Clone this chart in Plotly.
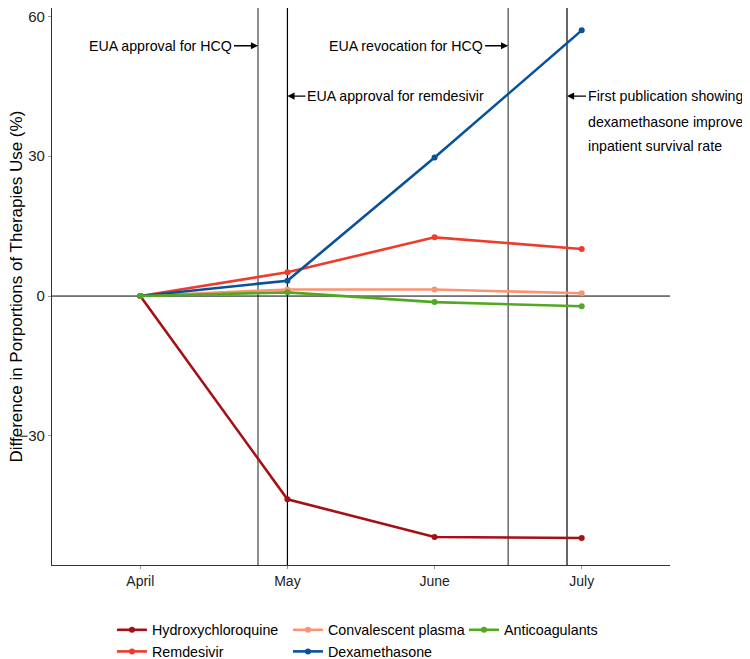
import plotly.graph_objects as go

months = ["April", "May", "June", "July"]
month_pos = [0, 1, 2, 3]

hydroxychloroquine = [0, -43.6, -51.7, -51.9]
remdesivir = [0, 5.1, 12.6, 10.1]
convalescent_plasma = [0, 1.4, 1.4, 0.6]
dexamethasone = [0, 3.3, 29.7, 57.0]
anticoagulants = [0, 0.8, -1.3, -2.2]

series_names = ["Hydroxychloroquine", "Remdesivir", "Convalescent plasma", "Dexamethasone", "Anticoagulants"]
series_values = [hydroxychloroquine, remdesivir, convalescent_plasma, dexamethasone, anticoagulants]
series_colors = ["#A50F15", "#EF3B2C", "#FC9272", "#08519C", "#52A821"]
legend_ranks = [1, 4, 2, 5, 3]

event_pos = [0.8, 1.0, 2.5, 2.9]
event_colors = ["#444444", "#000000", "#444444", "#000000"]

y_ticks = [-30, 0, 30, 60]
y_title = "Difference in Porportions of Therapies Use (%)"

FONT = "Liberation Sans, Arial, Helvetica, sans-serif"

fig = go.Figure()
for name, vals, col, rk in zip(series_names, series_values, series_colors, legend_ranks):
    fig.add_trace(go.Scatter(
        x=month_pos, y=vals, mode="lines+markers", name=name,
        line=dict(color=col, width=2.6), marker=dict(color=col, size=6),
        legendrank=rk,
    ))

shapes = []
for xp, c in zip(event_pos, event_colors):
    shapes.append(dict(type="line", xref="x", yref="paper", x0=xp, x1=xp, y0=0, y1=1,
                       line=dict(color=c, width=1.2), layer="below"))
shapes.append(dict(type="line", xref="paper", yref="y", x0=0, x1=1, y0=0, y1=0,
                   line=dict(color="#000000", width=1), layer="below"))

ann_font = dict(family=FONT, size=14.2, color="#000000")
arrow_kw = dict(showarrow=True, ay=0, arrowhead=2, arrowsize=1.1, arrowwidth=1.3, arrowcolor="#000")
annotations = [
    dict(x=0.8, y=53.7, xref="x", yref="y", text="EUA approval for HCQ",
         ax=-24, xanchor="right", font=ann_font, **arrow_kw),
    dict(x=2.5, y=53.7, xref="x", yref="y", text="EUA revocation for HCQ",
         ax=-23, xanchor="right", font=ann_font, **arrow_kw),
    dict(x=1.0, y=42.9, xref="x", yref="y", text="EUA approval for remdesivir",
         ax=18, xanchor="left", font=ann_font, **arrow_kw),
    dict(x=2.9, y=42.9, xref="x", yref="y", text="First publication showing",
         ax=19, xanchor="left", font=ann_font, **arrow_kw),
    dict(x=2.9, y=37.4, xref="x", yref="y", text="dexamethasone improves", showarrow=False,
         xshift=19, xanchor="left", font=ann_font),
    dict(x=2.9, y=32.1, xref="x", yref="y", text="inpatient survival rate", showarrow=False,
         xshift=19, xanchor="left", font=ann_font),
    dict(x=0, y=0.5, xref="paper", yref="paper", text=y_title, textangle=-90,
         showarrow=False, xanchor="center", yanchor="middle", xshift=-36,
         font=dict(family=FONT, size=17, color="#000")),
]

fig.update_layout(
    width=742, height=651,
    margin=dict(l=44, r=80, t=0, b=94, autoexpand=False),
    plot_bgcolor="white", paper_bgcolor="white",
    font=dict(family=FONT, size=14, color="#000"),
    shapes=shapes, annotations=annotations,
    showlegend=True,
    legend=dict(orientation="h", x=0.097, xanchor="left", y=-0.088, yanchor="top",
                entrywidth=131, font=dict(family=FONT, size=14.3, color="#000"),
                bgcolor="rgba(0,0,0,0)", tracegroupgap=0),
    xaxis=dict(range=[-0.6, 3.6], tickmode="array", tickvals=month_pos, ticktext=months,
               showgrid=False, zeroline=False, showline=True, linecolor="#333", linewidth=1.1,
               ticks="outside", ticklen=3, tickcolor="#999", tickfont=dict(size=14, color="#222"),
               automargin=False, ticklabeloverflow="allow"),
    yaxis=dict(range=[-57.7, 61.8], tickmode="array", tickvals=y_ticks,
               showgrid=False, zeroline=False, showline=True, linecolor="#333", linewidth=1.1,
               ticks="outside", ticklen=3, tickcolor="#999", tickfont=dict(size=15, color="#222"),
               automargin=False, ticklabeloverflow="allow"),
)

fig.write_html("out.html")
